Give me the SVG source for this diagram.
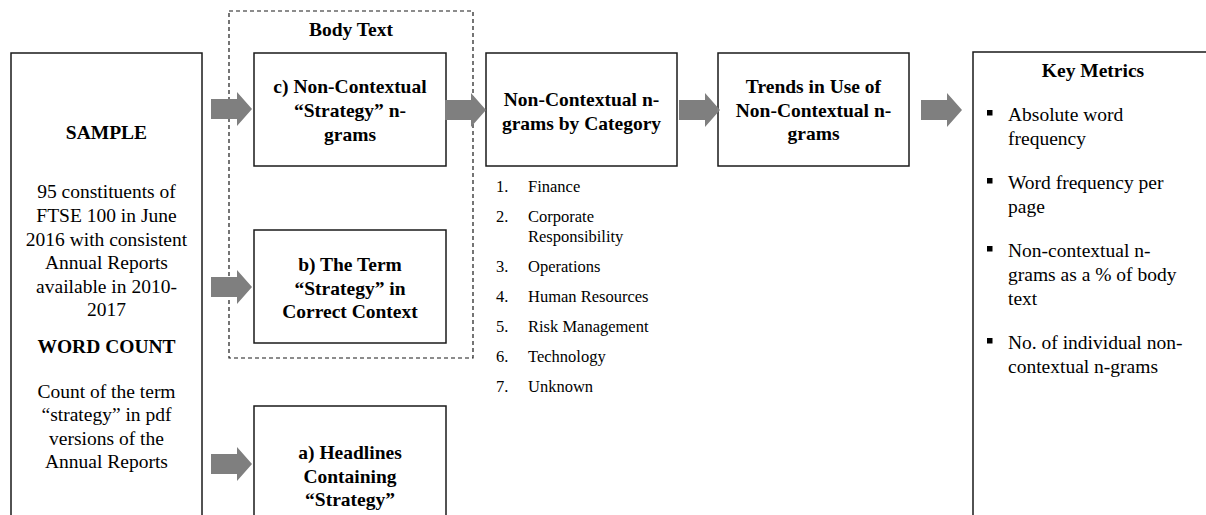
<svg xmlns="http://www.w3.org/2000/svg" width="1206" height="515" viewBox="0 0 1206 515">
<style>
.box{fill:#fff;stroke:#1a1a1a;stroke-width:1.5}
.dash{fill:none;stroke:#1a1a1a;stroke-width:1.2;stroke-dasharray:4 3}
.t{font-family:"Liberation Serif","Times New Roman",serif;font-size:19.5px;fill:#000}
.b{font-weight:bold}
.c{text-anchor:middle}
.l{font-family:"Liberation Serif","Times New Roman",serif;font-size:16.5px;fill:#000}
.arr{fill:#7f7f7f}
</style>
<defs>
<path id="arr" d="M0,-10 H26 V-17 L41,0 L26,17 V10 H0 Z"/>
</defs>
<rect id="bodytext-group" class="dash" x="229" y="11" width="244" height="347"/>
<text class="t b c" x="351" y="36">Body Text</text>

<g id="sample">
<rect class="box" x="11" y="53" width="191" height="480"/>
<text class="t b c" x="106.5" y="139">SAMPLE</text>
<text class="t c" x="106.5" y="198">95 constituents of</text>
<text class="t c" x="106.5" y="222">FTSE 100 in June</text>
<text class="t c" x="106.5" y="245.5">2016 with consistent</text>
<text class="t c" x="106.5" y="269">Annual Reports</text>
<text class="t c" x="106.5" y="292.5">available in 2010-</text>
<text class="t c" x="106.5" y="316">2017</text>
<text class="t b c" x="106.5" y="353">WORD COUNT</text>
<text class="t c" x="106.5" y="398">Count of the term</text>
<text class="t c" x="106.5" y="421">“strategy” in pdf</text>
<text class="t c" x="106.5" y="444.5">versions of the</text>
<text class="t c" x="106.5" y="468">Annual Reports</text>
</g>

<g id="node-c">
<rect class="box" x="254" y="53" width="192" height="113"/>
<text class="t b c" x="350" y="93">c) Non-Contextual</text>
<text class="t b c" x="350" y="117">“Strategy” n-</text>
<text class="t b c" x="350" y="141">grams</text>
</g>

<g id="node-b">
<rect class="box" x="254" y="230" width="192" height="113"/>
<text class="t b c" x="350" y="271">b) The Term</text>
<text class="t b c" x="350" y="295">“Strategy” in</text>
<text class="t b c" x="350" y="318">Correct Context</text>
</g>

<g id="node-a">
<rect class="box" x="254" y="406" width="192" height="130"/>
<text class="t b c" x="350" y="459">a) Headlines</text>
<text class="t b c" x="350" y="483">Containing</text>
<text class="t b c" x="350" y="506">“Strategy”</text>
</g>

<g id="node-category">
<rect class="box" x="486" y="53" width="191" height="113"/>
<text class="t b c" x="581.5" y="106">Non-Contextual n-</text>
<text class="t b c" x="581.5" y="130">grams by Category</text>
</g>

<g id="category-list">
<text class="l" x="496" y="192">1.</text><text class="l" x="528" y="192">Finance</text>
<text class="l" x="496" y="222">2.</text><text class="l" x="528" y="222">Corporate</text>
<text class="l" x="528" y="242">Responsibility</text>
<text class="l" x="496" y="272">3.</text><text class="l" x="528" y="272">Operations</text>
<text class="l" x="496" y="302">4.</text><text class="l" x="528" y="302">Human Resources</text>
<text class="l" x="496" y="332">5.</text><text class="l" x="528" y="332">Risk Management</text>
<text class="l" x="496" y="362">6.</text><text class="l" x="528" y="362">Technology</text>
<text class="l" x="496" y="392">7.</text><text class="l" x="528" y="392">Unknown</text>
</g>

<g id="node-trends">
<rect class="box" x="718" y="53" width="191" height="113"/>
<text class="t b c" x="813.5" y="93">Trends in Use of</text>
<text class="t b c" x="813.5" y="117">Non-Contextual n-</text>
<text class="t b c" x="813.5" y="140">grams</text>
</g>

<g id="node-keymetrics">
<rect class="box" x="973" y="52" width="250" height="480"/>
<text class="t b c" x="1093" y="77">Key Metrics</text>
<rect x="987" y="110" width="5.5" height="5.5" fill="#000"/>
<text class="t" x="1008" y="121">Absolute word</text>
<text class="t" x="1008" y="145">frequency</text>
<rect x="987" y="178" width="5.5" height="5.5" fill="#000"/>
<text class="t" x="1008" y="189">Word frequency per</text>
<text class="t" x="1008" y="213">page</text>
<rect x="987" y="246" width="5.5" height="5.5" fill="#000"/>
<text class="t" x="1008" y="257">Non-contextual n-</text>
<text class="t" x="1008" y="281">grams as a % of body</text>
<text class="t" x="1008" y="305">text</text>
<rect x="987" y="338" width="5.5" height="5.5" fill="#000"/>
<text class="t" x="1008" y="349">No. of individual non-</text>
<text class="t" x="1008" y="373">contextual n-grams</text>
</g>

<g id="connectors" class="arr">
<use href="#arr" x="211" y="109"/>
<use href="#arr" x="211" y="287"/>
<use href="#arr" x="211" y="464"/>
<use href="#arr" x="445" y="110"/>
<use href="#arr" x="679" y="110"/>
<use href="#arr" x="921" y="110"/>
</g>
</svg>
